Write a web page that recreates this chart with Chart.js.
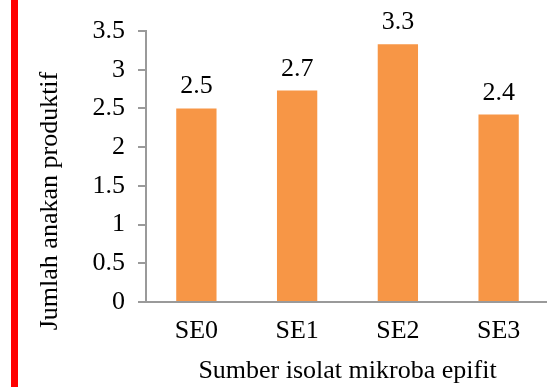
<!DOCTYPE html>
<html>
<head>
<meta charset="utf-8">
<script src="https://cdn.jsdelivr.net/npm/chart.js@4.4.0/dist/chart.umd.min.js"></script>
<style>
  html, body { margin: 0; padding: 0; background: #fff; overflow: hidden; }
  #wrap { position: relative; width: 550px; height: 387px; }
  #edge { position: absolute; left: 11px; top: 0; width: 7px; height: 387px; background: #ff0000; }
</style>
</head>
<body>
<div id="wrap">
  <canvas id="chart" width="550" height="387"></canvas>
  <div id="edge"></div>
</div>
<script>
// Jumlah anakan produktif per sumber isolat
const categories = ['SE0', 'SE1', 'SE2', 'SE3'];
const anakanProduktif = [2.5, 2.73, 3.33, 2.42];
const yTicks = [0, 0.5, 1, 1.5, 2, 2.5, 3, 3.5];

const FONT = '"Liberation Serif", "Times New Roman", serif';
const AXIS_GREY = '#9a9a9a';

// Value labels above each bar
const valueLabels = {
  id: 'valueLabels',
  afterDatasetsDraw(chart) {
    const ctx = chart.ctx;
    const meta = chart.getDatasetMeta(0);
    ctx.save();
    ctx.font = '26px ' + FONT;
    ctx.fillStyle = '#000';
    ctx.textAlign = 'center';
    ctx.textBaseline = 'alphabetic';
    meta.data.forEach((bar, i) => {
      const v = chart.data.datasets[0].data[i];
      ctx.fillText(v.toFixed(1), bar.x, bar.y - 15);
    });
    ctx.restore();
  }
};

// Rotated y-axis title
const yTitle = {
  id: 'yTitle',
  afterDraw(chart) {
    const ctx = chart.ctx;
    ctx.save();
    ctx.font = '26px ' + FONT;
    ctx.fillStyle = '#000';
    ctx.textAlign = 'center';
    ctx.textBaseline = 'middle';
    ctx.translate(50, chart.chartArea.top + 170);
    ctx.rotate(-Math.PI / 2);
    ctx.fillText('Jumlah anakan produktif', 0, 0);
    ctx.restore();
  }
};

new Chart(document.getElementById('chart'), {
  type: 'bar',
  data: {
    labels: categories,
    datasets: [{
      data: anakanProduktif,
      backgroundColor: '#F79646',
      borderWidth: 0,
      barPercentage: 0.4,
      categoryPercentage: 1.0
    }]
  },
  options: {
    responsive: false,
    animation: false,
    layout: { padding: { left: 0, right: 1, top: 31, bottom: 0 } },
    plugins: { legend: { display: false }, tooltip: { enabled: false } },
    scales: {
      x: {
        grid: { display: false, drawTicks: false },
        border: { display: true, color: AXIS_GREY, width: 2 },
        ticks: { color: '#000', font: { family: FONT, size: 26 }, padding: 14 },
        title: {
          display: true,
          text: 'Sumber isolat mikroba epifit',
          color: '#000',
          font: { family: FONT, size: 26 },
          padding: { top: 4, bottom: 0 }
        },
        afterFit(scale) { scale.height = 85; }
      },
      y: {
        min: 0,
        max: 3.5,
        afterBuildTicks(scale) { scale.ticks = yTicks.map(v => ({ value: v })); },
        grid: { drawOnChartArea: false, drawTicks: true, tickLength: 8, tickColor: AXIS_GREY, lineWidth: 2 },
        border: { display: true, color: AXIS_GREY, width: 2 },
        ticks: {
          color: '#000',
          font: { family: FONT, size: 26 },
          padding: 13,
          callback: (v) => String(v)
        },
        afterFit(scale) { scale.width = 146; }
      }
    }
  },
  plugins: [valueLabels, yTitle]
});
</script>
</body>
</html>
